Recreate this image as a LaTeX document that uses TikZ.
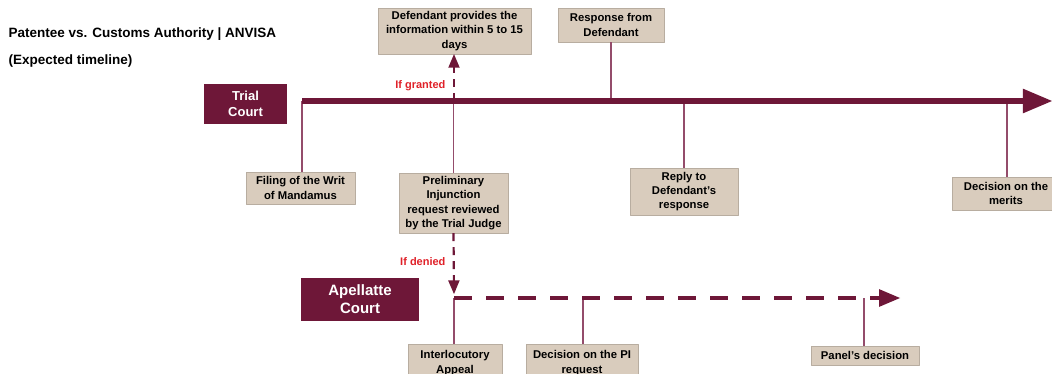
\documentclass[tikz,border=0pt]{standalone}
\usepackage{fontspec}
\setmainfont{Liberation Sans}
\usetikzlibrary{arrows}
\definecolor{mrntwo}{rgb}{0.43,0.09,0.22}
\definecolor{lnkwtt}{rgb}{0.58,0.30,0.42}
\definecolor{tanbox}{rgb}{0.85,0.80,0.74}
\definecolor{rdtext}{rgb}{0.88,0.13,0.16}
\tikzset{
  evbox/.style={fill=tanbox,draw=tanbox!85!black,line width=0.3pt,align=center,inner sep=2pt,font=\fontsize{11.3}{14.3}\selectfont\bfseries},
  court/.style={fill=mrntwo,text=white,align=center},
  tick/.style={color=lnkwtt,line width=1.2pt},
  cond/.style={color=rdtext,font=\fontsize{11}{13}\selectfont\bfseries}
}
\begin{document}
\begin{tikzpicture}[line cap=butt,line join=round,>=triangle 45,x=1pt,y=-1pt]
\useasboundingbox[fill=white] (0,0) rectangle (1052,374);
\node[anchor=west,font=\fontsize{13.5}{16}\selectfont\bfseries] (ttl) at (5,34) {Patentee vs. Customs Authority | ANVISA};
\node[anchor=west,font=\fontsize{13.5}{16}\selectfont\bfseries] (sub) at (5,61) {(Expected timeline)};
% courts
\node[court,minimum width=83pt,minimum height=40pt,font=\fontsize{13}{16}\selectfont\bfseries] (trial) at (245.5,104) {Trial\\Court};
\node[court,minimum width=118pt,minimum height=43pt,font=\fontsize{15}{18}\selectfont\bfseries] (apel) at (360,299.5) {Apellatte\\Court};
% events
\node[evbox,minimum width=109pt,minimum height=32pt] (filing) at (300.5,188) {Filing of the Writ\\of Mandamus};
\node[evbox,minimum width=109pt,minimum height=60pt] (prelim) at (453.5,203) {Preliminary\\Injunction\\request reviewed\\by the Trial Judge};
\node[evbox,minimum width=153pt,minimum height=46pt] (provide) at (454.5,31) {Defendant provides the\\information within 5 to 15\\days};
\node[evbox,minimum width=106pt,minimum height=34pt] (resp) at (611,25) {Response from\\Defendant};
\node[evbox,minimum width=108pt,minimum height=47pt] (reply) at (684,191.5) {Reply to\\Defendant's\\response};
\node[evbox,minimum width=108pt,minimum height=33pt] (merits) at (1006,193.5) {Decision on the\\merits};
\node[evbox,minimum width=94pt,minimum height=38pt,anchor=north] (interl) at (455,344) {Interlocutory\\Appeal};
\node[evbox,minimum width=112pt,minimum height=38pt,anchor=north] (pidec) at (582,344) {Decision on the PI\\request};
\node[evbox,minimum width=108pt,minimum height=19pt] (panel) at (865,355.5) {Panel's decision};
% points on the lines
\coordinate (t0) at (302,101);
\coordinate (tend) at (1052,101);
\coordinate (a0) at (454,298);
\coordinate (aend) at (900,298);
% connectors
\draw[tick] (t0) -- (t0 |- filing.north);
\draw[tick] (prelim.north |- t0) -- (prelim.north);
\draw[tick] (resp.south) -- (resp.south |- t0);
\draw[tick] (684,101) -- (684,101 |- reply.north);
\draw[tick] (1007,101) -- (1007,101 |- merits.north);
\draw[tick] (a0) -- (a0 |- interl.north);
\draw[tick] (583,298) -- (583,298 |- pidec.north);
\draw[tick] (864,298) -- (864,298 |- panel.north);
% timelines
\draw[->,color=mrntwo,line width=6pt] (t0) -- (tend);
\draw[->,color=mrntwo,line width=4pt,dash pattern=on 18pt off 14pt] (a0) -- (aend);
\draw[->,color=mrntwo,line width=2.2pt,dash pattern=on 8pt off 6pt] (454,101) -- (454,101 |- provide.south);
\draw[->,color=mrntwo,line width=2.2pt,dash pattern=on 8pt off 6pt] (prelim.south) -- (454,294);
\node[cond,anchor=east] (grant) at (449,86) {If granted};
\node[cond,anchor=east] (deny) at (449,262) {If denied};
\end{tikzpicture}
\end{document}
